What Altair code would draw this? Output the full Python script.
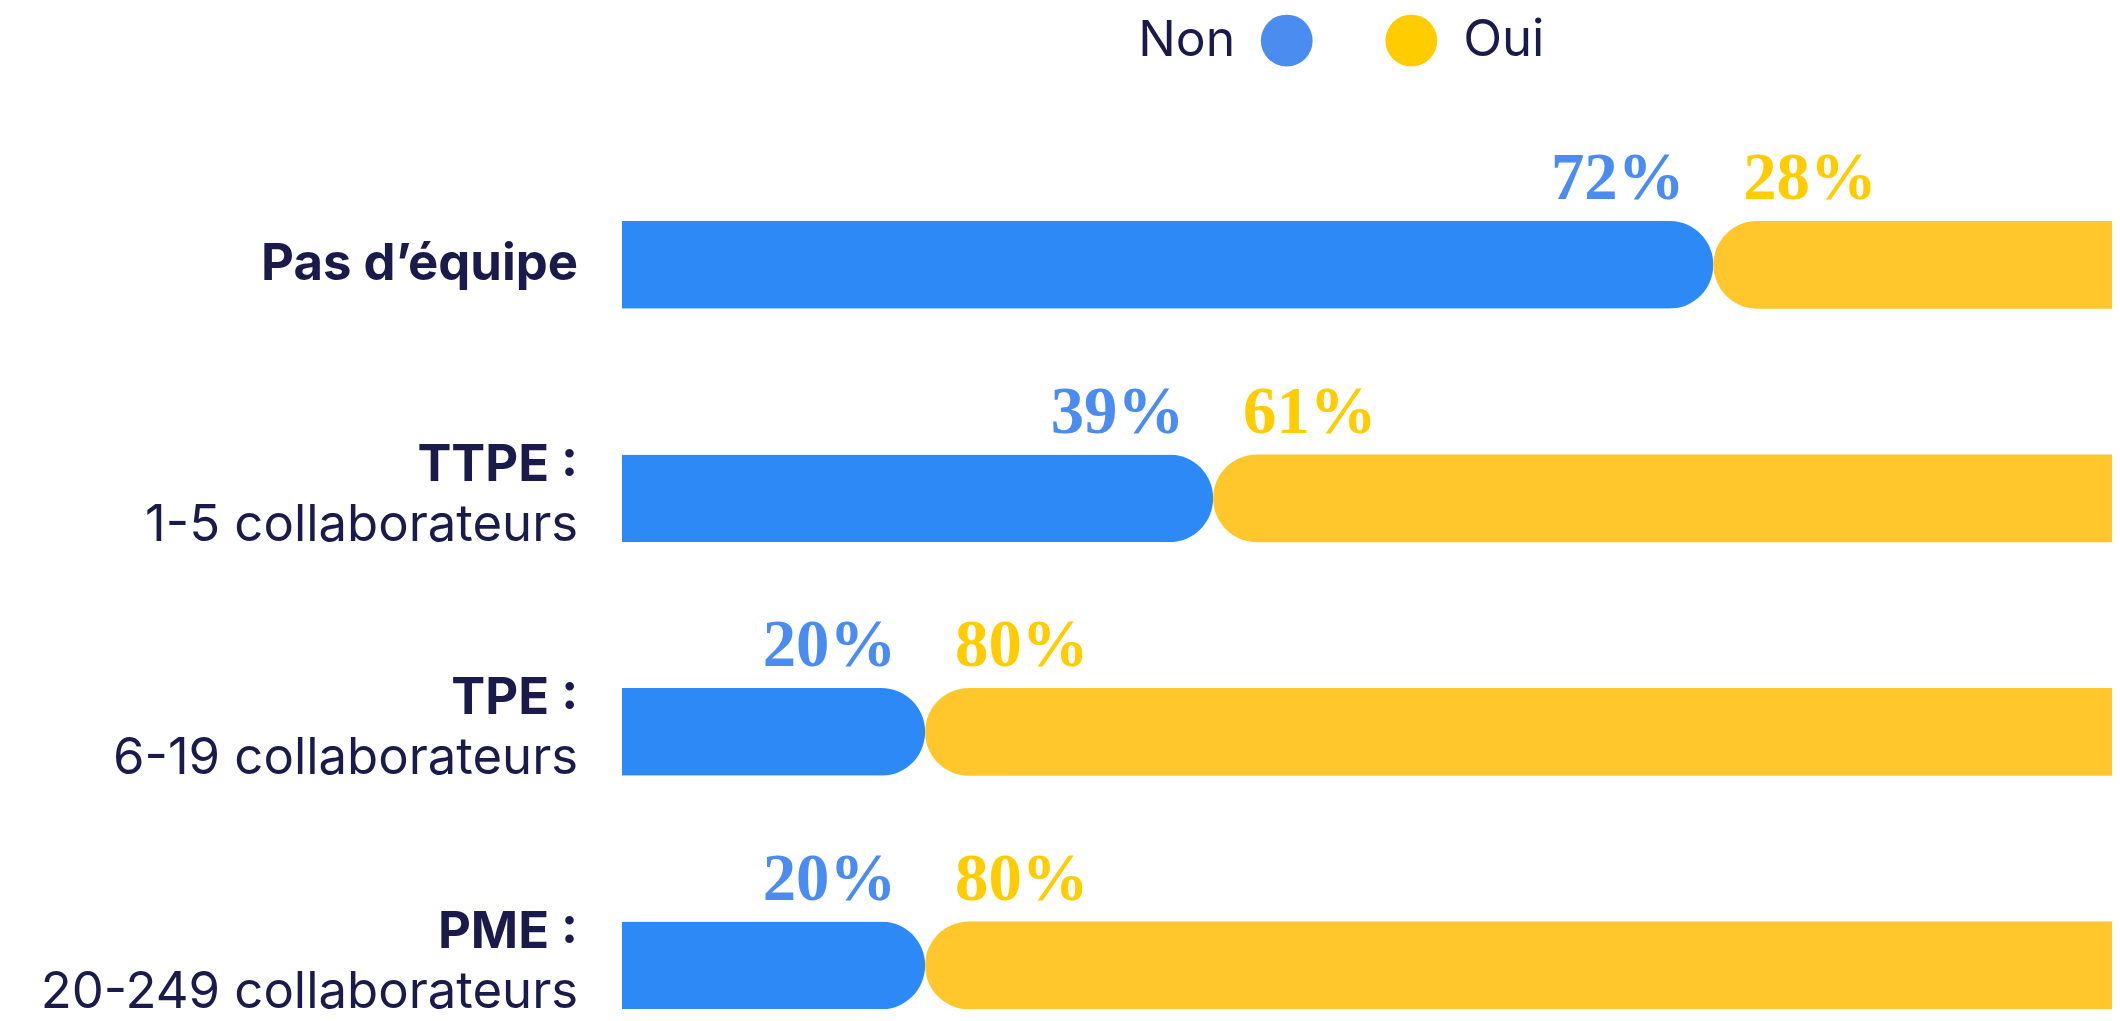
import altair as alt
import pandas as pd

# ---- data ----
groups = ["Pas d’équipe", "TTPE :", "TPE :", "PME :"]
subtitles = ["", "1-5 collaborateurs", "6-19 collaborateurs", "20-249 collaborateurs"]
non_values = [72, 39, 20, 20]
oui_values = [28, 61, 80, 80]
series = ["Non", "Oui"]

df = pd.DataFrame({"group": groups, "sub": subtitles, "non": non_values, "oui": oui_values})
df["total"] = df["non"] + df["oui"]
df["non_label"] = df["non"].astype(str) + "%"
df["oui_label"] = df["oui"].astype(str) + "%"
df["s_non"] = series[0]
df["s_oui"] = series[1]

# ---- style ----
BLUE_BAR = "#2D89F5"
YELLOW_BAR = "#FFC72C"
BLUE_TXT = "#4A8CF0"
YELLOW_TXT = "#FFCC00"
NAVY = "#1B1B4B"
SANS = "Inter"
SERIF = "Liberation Serif"

xscale = alt.Scale(domain=[0, 98.3], nice=False, zero=False)
yenc = alt.Y("group:N", sort=groups, scale=alt.Scale(type="point", padding=0.1878), axis=None)

base = alt.Chart(df)

blue = base.mark_bar(size=88, color=BLUE_BAR, cornerRadiusTopRight=44, cornerRadiusBottomRight=44).encode(
    x=alt.X("non:Q", scale=xscale, axis=None), y=yenc
)
yellow = base.mark_bar(size=88, color=YELLOW_BAR, cornerRadiusTopLeft=44, cornerRadiusBottomLeft=44, clip=True).encode(
    x=alt.X("non:Q", scale=xscale, axis=None), x2="total:Q", y=yenc
)

legend_non = alt.Legend(
    orient="none", legendX=518, legendY=-207, title="Non", titleOrient="left",
    titleFont=SANS, titleFontSize=50, titleFontWeight="normal", titleColor=NAVY,
    titlePadding=25, titleBaseline="middle", titleAnchor="middle",
    labelExpr="''", labelOffset=0, symbolType="circle", symbolSize=2704,
    symbolStrokeWidth=0, padding=0,
)
legend_oui = alt.Legend(
    orient="none", legendX=766, legendY=-207, title=None,
    labelFont=SANS, labelFontSize=51, labelColor=NAVY, labelOffset=26,
    symbolType="circle", symbolSize=2704, symbolStrokeWidth=0, padding=0,
)

non_txt = base.mark_text(align="right", baseline="alphabetic", dx=-29, dy=-66,
                         font=SERIF, fontWeight="bold", fontSize=67).encode(
    x=alt.X("non:Q", scale=xscale, axis=None), y=yenc, text="non_label:N",
    color=alt.Color("s_non:N", scale=alt.Scale(domain=[series[0]], range=[BLUE_TXT]), legend=legend_non),
)
oui_txt = base.mark_text(align="left", baseline="alphabetic", dx=30, dy=-66,
                         font=SERIF, fontWeight="bold", fontSize=67).encode(
    x=alt.X("non:Q", scale=xscale, axis=None), y=yenc, text="oui_label:N",
    color=alt.Color("s_oui:N", scale=alt.Scale(domain=[series[1]], range=[YELLOW_TXT]), legend=legend_oui),
)

lab_single = base.transform_filter("datum.sub == ''").mark_text(
    align="right", baseline="alphabetic", dx=-44, dy=15, font=SANS, fontWeight="bold",
    fontSize=51, color=NAVY).encode(x=alt.value(0), y=yenc, text="group:N")
lab_first = base.transform_filter("datum.sub != ''").mark_text(
    align="right", baseline="alphabetic", dx=-44, dy=-17.5, font=SANS, fontWeight="bold",
    fontSize=51, color=NAVY).encode(x=alt.value(0), y=yenc, text="group:N")
lab_second = base.transform_filter("datum.sub != ''").mark_text(
    align="right", baseline="alphabetic", dx=-44, dy=42.5, font=SANS, fontWeight="normal",
    fontSize=51, color=NAVY).encode(x=alt.value(0), y=yenc, text="sub:N")

chart = alt.layer(blue, yellow, non_txt, oui_txt, lab_single, lab_first, lab_second).resolve_scale(
    color="independent"
).properties(
    width=1495, height=791,
    autosize=alt.AutoSizeParams(type="none"),
    padding={"left": 616, "top": 212, "right": 0, "bottom": 0},
    background="white",
).configure_view(stroke=None)

chart.save("out.html", embed_options={"renderer": "svg", "actions": False})
